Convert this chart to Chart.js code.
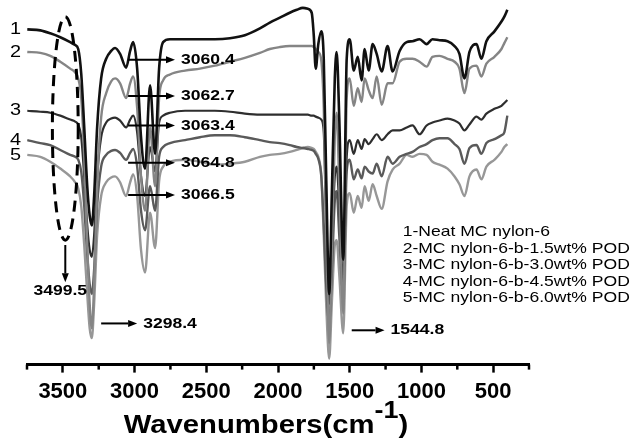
<!DOCTYPE html>
<html>
<head>
<meta charset="utf-8">
<script src="https://cdn.jsdelivr.net/npm/chart.js@4.4.0/dist/chart.umd.min.js"></script>
<style>
  html, body { margin: 0; padding: 0; background: #fff; }
  #wrap { width: 634px; height: 443px; }
</style>
</head>
<body>
<div id="wrap"><canvas id="ftirChart" width="634" height="443"></canvas></div>
<script>
// FTIR spectra. Transmittance in arbitrary units (curves are offset).
const wavenumbers = [3748, 3657, 3588, 3518, 3449, 3414, 3393, 3372, 3351, 3330,
  3313, 3298, 3282, 3261, 3233, 3198, 3163, 3136, 3101, 3059,
  3031, 3010, 2982, 2955, 2927, 2892, 2857, 2829, 2801, 2753,
  2648, 2544, 2440, 2335, 2231, 2126, 2057, 1987, 1918, 1869,
  1827, 1792, 1765, 1751, 1737, 1719, 1698, 1681, 1664, 1643,
  1625, 1604, 1591, 1573, 1545,
  1521, 1500, 1472, 1444, 1417, 1396, 1368, 1340, 1312, 1277,
  1236, 1201, 1152, 1103, 1062, 1013, 964, 923, 874, 818,
  769, 735, 700, 665, 616, 582, 547, 491, 442, 422,
  401];

const curve1 = [342, 341, 338, 334, 329, 326, 322, 297, 242, 182,
  152, 142, 172, 242, 292, 312, 320, 323, 317, 303,
  320, 329, 302, 232, 200, 285, 215, 302, 329, 332,
  332, 332, 332, 333, 336, 343, 349, 354, 359, 362,
  364, 363, 359, 337, 302, 327, 340, 312, 192, 72,
  172, 292, 319, 252, 107,
  312, 332, 300, 314, 290, 322, 300, 327, 317, 299,
  325, 299, 320, 329, 330, 332, 327, 332, 331, 330,
  325, 317, 292, 319, 327, 312, 330, 340, 350, 355,
  362];

const curve2 = [319, 318, 315, 309, 302, 298, 292, 272, 212, 122,
  62, 37, 82, 182, 252, 277, 289, 292, 287, 272,
  287, 294, 262, 192, 157, 242, 182, 272, 290, 296,
  300, 302, 305, 309, 313, 318, 322, 324, 325, 325,
  325, 325, 325, 324, 322, 319, 310, 262, 142, 22,
  112, 232, 257, 182, 52,
  272, 292, 264, 282, 268, 292, 280, 272, 294, 265,
  287, 287, 309, 312, 312, 309, 304, 314, 315, 312,
  309, 302, 277, 302, 305, 294, 307, 314, 322, 328,
  334];

const curve3 = [259, 258, 257, 254, 250, 248, 245, 232, 192, 142,
  117, 110, 132, 192, 232, 247, 251, 252, 249, 242,
  250, 254, 237, 192, 172, 222, 197, 247, 254, 257,
  259, 259, 259, 258, 256, 255, 255, 255, 255, 255,
  255, 255, 254, 254, 253, 252, 250, 237, 142, 62,
  122, 192, 202, 162, 87,
  212, 229, 215, 229, 220, 230, 225, 230, 235, 229,
  235, 239, 239, 242, 244, 235, 244, 247, 249, 251,
  249, 246, 239, 245, 253, 250, 256, 261, 264, 267,
  270];

const curve4 = [229, 226, 224, 219, 214, 212, 209, 197, 162, 112,
  82, 72, 97, 162, 202, 214, 218, 219, 216, 209,
  216, 220, 202, 157, 137, 182, 157, 212, 222, 226,
  229, 232, 234, 234, 232, 229, 227, 226, 224, 222,
  221, 220, 219, 218, 215, 210, 192, 142, 82, 42,
  92, 167, 177, 132, 72,
  197, 209, 189, 199, 190, 202, 197, 195, 205, 192,
  212, 205, 212, 215, 217, 222, 225, 229, 231, 231,
  225, 220, 205, 221, 224, 215, 226, 230, 234, 237,
  254];

const curve5 = [214, 212, 207, 200, 192, 186, 180, 162, 122, 72,
  37, 27, 62, 132, 172, 186, 191, 192, 186, 172,
  186, 194, 172, 117, 94, 155, 119, 187, 202, 207,
  209, 207, 204, 205, 207, 212, 214, 215, 217, 219,
  221, 222, 221, 220, 217, 212, 192, 132, 62, 6,
  62, 122, 127, 92, 32,
  162, 175, 155, 172, 160, 182, 167, 184, 172, 159,
  187, 199, 205, 214, 212, 215, 214, 207, 204, 200,
  192, 184, 172, 192, 199, 189, 202, 209, 217, 222,
  225];

const seriesNames = ['1-Neat MC nylon-6', '2-MC nylon-6-b-1.5wt% POD', '3-MC nylon-6-b-3.0wt% POD',
  '4-MC nylon-6-b-4.5wt% POD', '5-MC nylon-6-b-6.0wt% POD'];
const curveNumbers = ['1', '2', '3', '4', '5'];
const majorTicks = [3500, 3000, 2500, 2000, 1500, 1000, 500];

// peak labels: text, arrow from/to (cm-1), height (a.u.)
const peakLabels = [
  { text: '3060.4', from: 3045, to: 2718, at: 311 },
  { text: '3062.7', from: 3045, to: 2718, at: 274 },
  { text: '3063.4', from: 3045, to: 2718, at: 244 },
  { text: '3064.8', from: 3045, to: 2718, at: 206 },
  { text: '3066.5', from: 3045, to: 2718, at: 173 },
  { text: '3298.4', from: 3233, to: 2982, at: 42 },
  { text: '1544.8', from: 1486, to: 1257, at: 35 }
];

const allCurves = [curve1, curve2, curve3, curve4, curve5];
const lineColors = ['#111111', '#858585', '#2e2e2e', '#5a5a5a', '#979797'];
const lineWidths = [2.6, 2.4, 2.2, 2.4, 2.4];

const FONT = '"Liberation Sans", Arial, sans-serif';
const SX = 1.17; // the original text is slightly wide

function wideText(ctx, str, px, py, font, align) {
  ctx.save();
  ctx.font = font;
  ctx.textBaseline = 'middle';
  ctx.textAlign = align;
  ctx.translate(px, py);
  ctx.scale(SX, 1);
  ctx.fillText(str, 0, 0);
  ctx.restore();
}

function arrow(ctx, x1, y1, x2, y2) {
  const ang = Math.atan2(y2 - y1, x2 - x1);
  const hl = 9, hw = 3.5;
  ctx.beginPath();
  ctx.moveTo(x1, y1);
  ctx.lineTo(x2 - hl * Math.cos(ang), y2 - hl * Math.sin(ang));
  ctx.stroke();
  ctx.beginPath();
  ctx.moveTo(x2, y2);
  ctx.lineTo(x2 - hl * Math.cos(ang) + hw * Math.sin(ang), y2 - hl * Math.sin(ang) - hw * Math.cos(ang));
  ctx.lineTo(x2 - hl * Math.cos(ang) - hw * Math.sin(ang), y2 - hl * Math.sin(ang) + hw * Math.cos(ang));
  ctx.closePath();
  ctx.fill();
}

const annotate = {
  id: 'annotate',
  afterDraw(chart) {
    const { ctx, chartArea, scales: { x, y } } = chart;
    ctx.save();
    ctx.fillStyle = '#000';
    ctx.strokeStyle = '#000';

    // short minor ticks (the long major ones come from the axis itself)
    ctx.lineWidth = 2.5;
    x.ticks.forEach(t => {
      if (majorTicks.includes(t.value)) return;
      const px = x.getPixelForValue(t.value);
      ctx.beginPath();
      ctx.moveTo(px, chartArea.bottom);
      ctx.lineTo(px, chartArea.bottom + 5);
      ctx.stroke();
    });

    // curve numbers at the left end of each trace
    allCurves.forEach((c, i) => {
      wideText(ctx, curveNumbers[i], chartArea.left - 6, y.getPixelForValue(c[0]), '17px ' + FONT, 'right');
    });

    // dashed ellipse round the 3500 region
    const cx = x.getPixelForValue(3483);
    const rx = Math.abs(x.getPixelForValue(3483 - 90) - cx);
    const cy = y.getPixelForValue(241);
    const ry = Math.abs(y.getPixelForValue(241 - 114) - cy);
    ctx.save();
    ctx.lineWidth = 3;
    ctx.setLineDash([11, 7]);
    ctx.beginPath();
    ctx.ellipse(cx, cy, rx, ry, 0, 0, Math.PI * 2);
    ctx.stroke();
    ctx.restore();

    ctx.lineWidth = 2;
    arrow(ctx, cx, y.getPixelForValue(122), cx, y.getPixelForValue(84));
    wideText(ctx, '3499.5', x.getPixelForValue(3518), y.getPixelForValue(75), 'bold 15px ' + FONT, 'center');

    peakLabels.forEach(p => {
      const py = y.getPixelForValue(p.at);
      const x1 = x.getPixelForValue(p.from), x2 = x.getPixelForValue(p.to);
      arrow(ctx, x1, py, x2, py);
      wideText(ctx, p.text, x2 + 6, py, 'bold 15px ' + FONT, 'left');
    });

    // sample list
    const lx = x.getPixelForValue(1131);
    seriesNames.forEach((s, i) => {
      wideText(ctx, s, lx, 232 + i * 16.5, '15px ' + FONT, 'left');
    });

    // axis title with superscript
    const tx = (chartArea.left + chartArea.right) / 2 - 12, ty = 426;
    ctx.font = 'bold 25px ' + FONT;
    const w1 = ctx.measureText('Wavenumbers(cm').width;
    const w3 = ctx.measureText(')').width;
    ctx.font = 'bold 23px ' + FONT;
    const w2 = ctx.measureText('-1').width;
    let sx = tx - (w1 + w2 + w3) * SX / 2;
    wideText(ctx, 'Wavenumbers(cm', sx, ty, 'bold 25px ' + FONT, 'left');
    sx += w1 * SX;
    wideText(ctx, '-1', sx, ty - 14, 'bold 23px ' + FONT, 'left');
    sx += w2 * SX;
    wideText(ctx, ')', sx, ty, 'bold 25px ' + FONT, 'left');
    ctx.restore();
  }
};

new Chart(document.getElementById('ftirChart'), {
  type: 'line',
  data: {
    datasets: allCurves.map((c, i) => ({
      label: seriesNames[i],
      data: wavenumbers.map((w, j) => ({ x: w, y: c[j] })),
      borderColor: lineColors[i],
      borderWidth: lineWidths[i],
      pointRadius: 0,
      fill: false,
      cubicInterpolationMode: 'monotone'
    }))
  },
  options: {
    responsive: false,
    animation: false,
    devicePixelRatio: 1,
    layout: { padding: { left: 27, right: 105, top: 0, bottom: 32 } },
    plugins: {
      legend: { display: false },
      tooltip: { enabled: false }
    },
    scales: {
      x: {
        type: 'linear',
        min: 250,
        max: 3750,
        reverse: true,
        border: { display: true, color: '#000', width: 3 },
        grid: {
          display: true,
          drawOnChartArea: false,
          drawTicks: true,
          tickLength: 8,
          tickWidth: 2.5,
          tickColor: (ctx) => (ctx.tick && majorTicks.includes(ctx.tick.value)) ? '#000' : 'rgba(0,0,0,0)'
        },
        ticks: {
          stepSize: 250,
          autoSkip: false,
          maxRotation: 0,
          padding: 6,
          color: '#000',
          font: { family: FONT, size: 22, weight: 'bold' },
          callback: (v) => majorTicks.includes(v) ? String(v) : ''
        }
      },
      y: {
        display: false,
        min: 0,
        max: 372
      }
    }
  },
  plugins: [annotate]
});
</script>
</body>
</html>
